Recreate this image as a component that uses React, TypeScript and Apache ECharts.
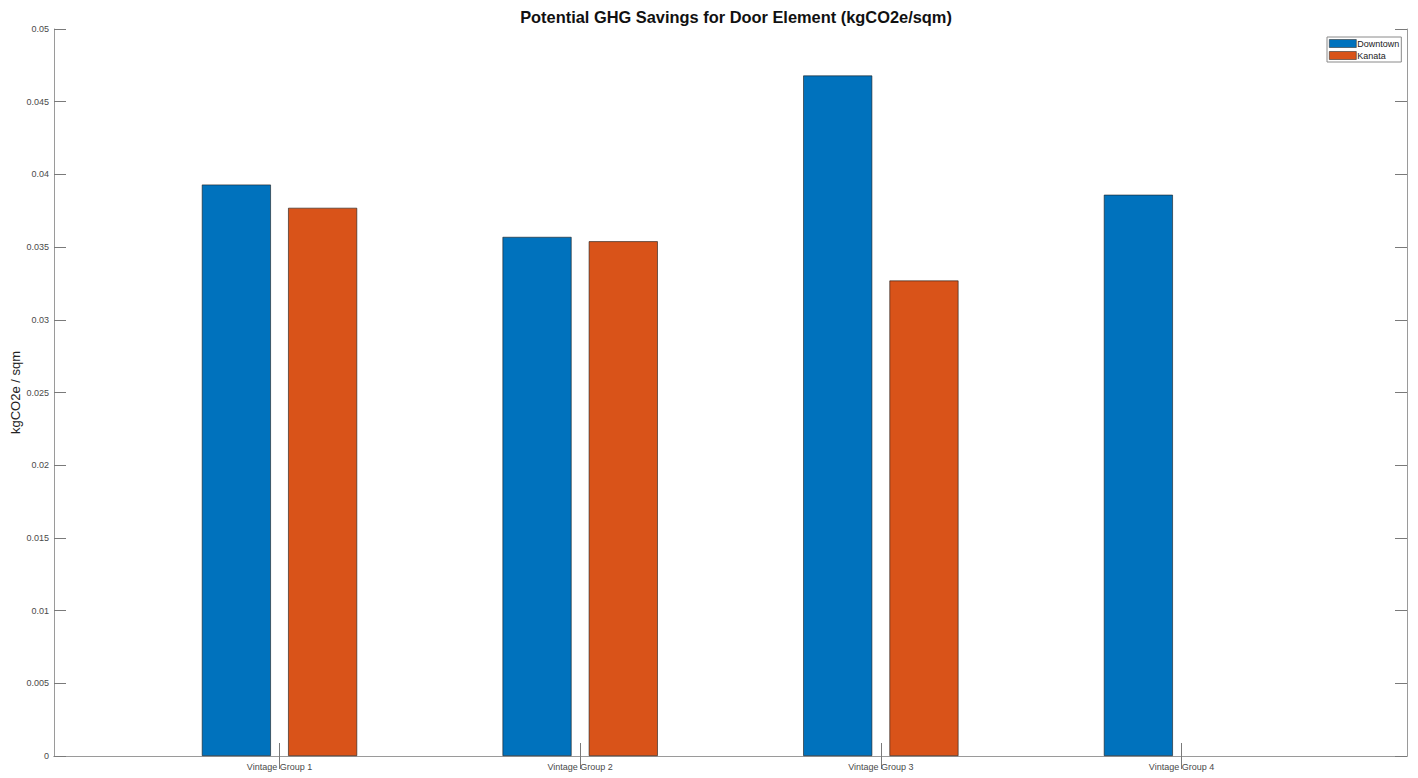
import React, { useEffect, useRef } from "react";
import * as echarts from "echarts";

const categories = ["Vintage Group 1", "Vintage Group 2", "Vintage Group 3", "Vintage Group 4"];
const positions = [1, 2, 3, 4];
const downtown = [0.0393, 0.0357, 0.0468, 0.0386];
const kanata = [0.0377, 0.0354, 0.0327, 0];
const yTicks = [0, 0.005, 0.01, 0.015, 0.02, 0.025, 0.03, 0.035, 0.04, 0.045, 0.05];

const FONT = "'Liberation Sans', Arial, sans-serif";
const BOX = "#9a9a9a";
const TICK = "#7a7a7a";
const LABEL = "#4a4a4a";

export default function App() {
  const ref = useRef<HTMLDivElement>(null);
  useEffect(() => {
    document.body.style.margin = "0";
    const chart = echarts.init(ref.current!, null, { renderer: "svg" });
    const toPts = (vals: number[]) =>
      positions.map((p, i) => ({
        value: [p, vals[i]],
        itemStyle: vals[i] === 0 ? { borderWidth: 0 } : undefined,
      }));
    chart.setOption({
      animation: false,
      backgroundColor: "#ffffff",
      textStyle: { fontFamily: FONT },
      title: {
        text: "Potential GHG Savings for Door Element (kgCO2e/sqm)",
        left: 731,
        top: 4,
        textAlign: "center",
        textStyle: { fontFamily: FONT, fontSize: 16.4, fontWeight: "bold", color: "#111" },
      },
      legend: {
        orient: "vertical",
        left: 1327,
        top: 37,
        padding: [2, 2, 2, 2],
        itemGap: 3,
        itemWidth: 27,
        itemHeight: 8,
        borderColor: "#8a8a8a",
        borderWidth: 1,
        backgroundColor: "#fff",
        icon: "rect",
        itemStyle: { borderWidth: 0.6, borderColor: "#333" },
        textStyle: { fontFamily: FONT, fontSize: 9, color: "#222", padding: [0, 0, 0, -4] },
        data: ["Downtown", "Kanata"],
      },
      grid: { left: 54, top: 29, right: 11, bottom: 22, containLabel: false, outerBoundsMode: "none" },
      xAxis: [
        {
          type: "value",
          min: 0.25,
          max: 4.75,
          position: "bottom",
          axisLine: { show: true, lineStyle: { color: BOX, width: 1 } },
          axisTick: { show: true, inside: true, length: 13, customValues: positions, lineStyle: { color: TICK } },
          axisLabel: {
            show: true,
            customValues: positions,
            formatter: (v: number) => categories[Math.round(v) - 1] ?? "",
            fontFamily: FONT,
            fontSize: 9,
            color: LABEL,
            margin: 6,
          },
          splitLine: { show: false },
        },
        {
          type: "value",
          min: 0.25,
          max: 4.75,
          position: "top",
          axisLine: { show: true, lineStyle: { color: BOX, width: 1 } },
          axisTick: { show: true, inside: true, length: 13, customValues: positions, lineStyle: { color: TICK } },
          axisLabel: { show: false },
          splitLine: { show: false },
        },
      ],
      yAxis: [
        {
          type: "value",
          min: 0,
          max: 0.05,
          interval: 0.005,
          position: "left",
          name: "kgCO2e / sqm",
          nameLocation: "middle",
          nameGap: 32,
          nameMoveOverlap: false,
          nameTextStyle: { fontFamily: FONT, fontSize: 13, color: "#222" },
          axisLine: { show: true, lineStyle: { color: BOX, width: 1 } },
          axisTick: { show: true, inside: true, length: 12, lineStyle: { color: TICK } },
          axisLabel: {
            fontFamily: FONT,
            fontSize: 9,
            color: LABEL,
            margin: 5,
            formatter: (v: number) => {
              const t = yTicks.find((y) => Math.abs(y - v) < 1e-9);
              return String(t !== undefined ? +t.toFixed(3) : +v.toFixed(3));
            },
          },
          splitLine: { show: false },
        },
        {
          type: "value",
          min: 0,
          max: 0.05,
          interval: 0.005,
          position: "right",
          axisLine: { show: true, lineStyle: { color: BOX, width: 1 } },
          axisTick: { show: true, inside: true, length: 12, lineStyle: { color: TICK } },
          axisLabel: { show: false },
          splitLine: { show: false },
        },
      ],
      series: [
        {
          name: "Downtown",
          type: "bar",
          xAxisIndex: 0,
          yAxisIndex: 0,
          barWidth: 69,
          barGap: "25%",
          itemStyle: { color: "#0072BD", borderColor: "#1a1a1a", borderWidth: 0.6 },
          data: toPts(downtown),
        },
        {
          name: "Kanata",
          type: "bar",
          xAxisIndex: 0,
          yAxisIndex: 0,
          barWidth: 69,
          barGap: "25%",
          itemStyle: { color: "#D95319", borderColor: "#1a1a1a", borderWidth: 0.6 },
          data: toPts(kanata),
        },
      ],
    });
    return () => chart.dispose();
  }, []);
  return <div ref={ref} style={{ width: 1418, height: 778 }} />;
}
